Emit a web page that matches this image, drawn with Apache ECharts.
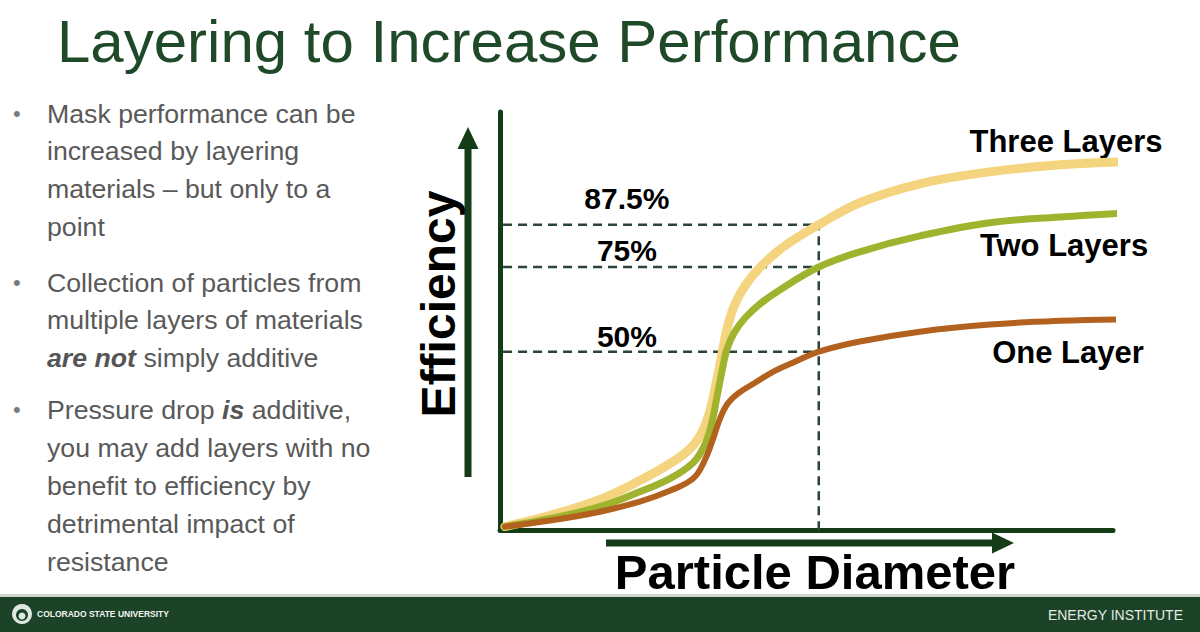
<!DOCTYPE html>
<html><head><meta charset="utf-8">
<script src="https://cdn.jsdelivr.net/npm/echarts@6/dist/echarts.min.js"></script>
<style>html,body{margin:0;padding:0;background:#fff}#c{width:1200px;height:632px}</style>
</head><body><div id="c"></div>
<script>
// ---------- data ----------
const slideTitle = 'Layering to Increase Performance';
const xAxisTitle = 'Particle Diameter';
const yAxisTitle = 'Efficiency';
const seriesNames = ['Three Layers', 'Two Layers', 'One Layer'];
// [particle diameter (arbitrary units), efficiency %]
const threeLayers = [[0.8,-1.7],[8.2,1.6],[16.3,6.3],[22.8,11.9],[27.7,16.9],[31.0,21.3],[33.0,26.4],[34.3,32.9],[35.2,40.2],[36.1,48.2],[37.0,56.5],[38.3,63.9],[40.1,69.8],[42.7,75.4],[46.5,81.3],[52.0,87.5],[58.7,94.0],[68.5,99.6],[79.9,103.1],[91.4,105.2],[102.0,106.1]];
const twoLayers = [[0.8,-1.7],[8.2,0.7],[16.3,4.2],[22.8,8.6],[27.7,12.5],[31.5,17.2],[33.4,22.5],[34.6,29.3],[35.4,36.7],[36.2,44.1],[37.0,50.6],[38.2,55.6],[40.0,60.0],[42.4,64.1],[45.7,68.3],[52.0,75.0],[58.7,79.5],[68.5,84.2],[79.9,88.1],[91.4,89.8],[102.3,91.0]];
const oneLayer = [[0.8,-1.7],[8.2,0.1],[16.3,2.7],[22.8,5.7],[27.7,8.9],[31.5,12.5],[33.3,17.5],[34.6,23.4],[35.7,29.3],[37.0,34.3],[38.8,37.6],[41.6,40.8],[44.9,44.4],[48.1,47.0],[52.0,50.0],[58.7,53.0],[68.5,55.9],[79.9,58.0],[91.4,59.1],[101.5,59.5]];
const guideLevels = [87.5, 75, 50];
const guideLabels = ['87.5%', '75%', '50%'];
const guideX = 52;
const bulletPoints = [
  ['Mask performance can be', 'increased by layering', 'materials \u2013 but only to a', 'point'],
  ['Collection of particles from', 'multiple layers of materials', '{bi|are not} simply additive'],
  ['Pressure drop {bi|is} additive,', 'you may add layers with no', 'benefit to efficiency by', 'detrimental impact of', 'resistance']
];
const footerLeft = 'COLORADO STATE UNIVERSITY';
const footerRight = 'ENERGY INSTITUTE';

// ---------- styles ----------
const FONT = '"Liberation Sans", Arial, Helvetica, sans-serif';
const AXIS = '#143c17';
const DASH = '#2b433a';
const COLORS = ['#f4d47e', '#9fb32e', '#b3611f'];
const WIDTHS = [9, 7, 6];
const Y_MIN = -2.7, Y_MAX = 120.8;

const chart = echarts.init(document.getElementById('c'), null, {renderer: 'svg', width: 1200, height: 632});

const curveData = [threeLayers, twoLayers, oneLayer];
const curveSeries = curveData.map((d, i) => ({
  name: seriesNames[i], type: 'line', data: d, smooth: 0.4,
  showSymbol: false, symbol: 'none', clip: false, z: 3 + i, silent: true,
  lineStyle: {color: COLORS[i], width: WIDTHS[i], cap: 'round', join: 'round'}
}));

const guideStyle = {color: DASH, width: 2.5, type: [9, 6]};
const guideSeries = guideLevels.map(v => ({
  type: 'line', data: [[0.5, v], [guideX, v]], symbol: 'none', silent: true, z: 2,
  lineStyle: guideStyle
}));
guideSeries.push({
  type: 'line', data: [[guideX, guideLevels[0] + 1], [guideX, Y_MIN]], symbol: 'none', silent: true, z: 2, clip: false,
  lineStyle: guideStyle
});
const labelOffsets = [-26, -17, -15];
guideSeries.push({
  type: 'scatter', symbolSize: 0, silent: true, z: 6, itemStyle: {opacity: 1},
  data: guideLevels.map((v, i) => ({
    value: [20.7, v],
    label: {show: true, position: 'inside', offset: [0, labelOffsets[i]], formatter: guideLabels[i], opacity: 1,
      color: '#000', textBorderWidth: 0, fontFamily: FONT, fontWeight: 'bold', fontSize: 30}
  }))
});

// graphic elements
const graphics = [];
graphics.push({type: 'text', x: 57, y: 41, style: {text: slideTitle, fill: '#1f4a2a', font: '60px ' + FONT, textVerticalAlign: 'middle'}});
const baselines = [[123, 160, 198, 236], [292, 329, 367], [419, 457, 495, 533, 571]];
bulletPoints.forEach((lines, bi) => {
  graphics.push({type: 'text', x: 13, y: baselines[bi][0] - 9.5, style: {text: '\u2022', fill: '#7a7a7a', font: '22px ' + FONT, textVerticalAlign: 'middle'}});
  lines.forEach((t, li) => {
    graphics.push({type: 'text', x: 47, y: baselines[bi][li] - 9.5, style: {
      text: t, fill: '#595959', font: '26.7px ' + FONT, textVerticalAlign: 'middle',
      rich: {bi: {fontWeight: 'bold', fontStyle: 'italic', fontSize: 26.7, fontFamily: FONT, fill: '#555'}}
    }});
  });
});
// axis arrows
graphics.push({type: 'line', shape: {x1: 468, y1: 477, x2: 468, y2: 145}, style: {stroke: AXIS, lineWidth: 7}});
graphics.push({type: 'polygon', shape: {points: [[468, 127], [457.5, 149], [478.5, 149]]}, style: {fill: AXIS}});
graphics.push({type: 'line', shape: {x1: 606, y1: 543, x2: 996, y2: 543}, style: {stroke: AXIS, lineWidth: 7}});
graphics.push({type: 'polygon', shape: {points: [[1014, 543], [992, 532.5], [992, 553.5]]}, style: {fill: AXIS}});
// axis titles
graphics.push({type: 'text', x: 815, y: 572, style: {text: xAxisTitle, fill: '#000', font: 'bold 49px ' + FONT, textAlign: 'center', textVerticalAlign: 'middle'}});
graphics.push({type: 'text', x: 438, y: 304, rotation: Math.PI / 2, style: {text: yAxisTitle, fill: '#000', font: 'bold 48px ' + FONT, textAlign: 'center', textVerticalAlign: 'middle'}});
// series names
const nameCenters = [[1066, 141], [1064, 245], [1068, 352]];
seriesNames.forEach((n, i) => {
  graphics.push({type: 'text', x: nameCenters[i][0], y: nameCenters[i][1], style: {text: n, fill: '#000', font: 'bold 31px ' + FONT, textAlign: 'center', textVerticalAlign: 'middle'}});
});
// footer
graphics.push({type: 'rect', shape: {x: 0, y: 594, width: 1200, height: 3}, style: {fill: '#cfd6cf'}});
graphics.push({type: 'rect', shape: {x: 0, y: 597, width: 1200, height: 35}, style: {fill: '#1c4228'}});
graphics.push({type: 'circle', shape: {cx: 22, cy: 614, r: 10}, style: {fill: '#dfe8df'}});
graphics.push({type: 'circle', shape: {cx: 22, cy: 615, r: 6}, style: {fill: '#1c4228'}});
graphics.push({type: 'circle', shape: {cx: 22, cy: 616, r: 3.5}, style: {fill: '#dfe8df'}});
graphics.push({type: 'text', x: 37, y: 614, style: {text: footerLeft, fill: '#f2f5f2', font: 'bold 8.5px ' + FONT, textVerticalAlign: 'middle'}});
graphics.push({type: 'text', x: 1183, y: 615, style: {text: footerRight, fill: '#e4ebe4', font: '14px ' + FONT, textAlign: 'right', textVerticalAlign: 'middle'}});

chart.setOption({
  animation: false,
  backgroundColor: '#ffffff',
  grid: {left: 500, right: 87, top: 112, bottom: 102},
  xAxis: {type: 'value', min: 0, max: 100,
    axisLine: {show: true, onZero: false, lineStyle: {color: AXIS, width: 5}},
    axisTick: {show: false}, axisLabel: {show: false}, splitLine: {show: false}},
  yAxis: {type: 'value', min: Y_MIN, max: Y_MAX,
    axisLine: {show: true, onZero: false, lineStyle: {color: AXIS, width: 5}},
    axisTick: {show: false}, axisLabel: {show: false}, splitLine: {show: false}},
  series: guideSeries.concat(curveSeries),
  graphic: graphics
});
</script>
</body></html>
